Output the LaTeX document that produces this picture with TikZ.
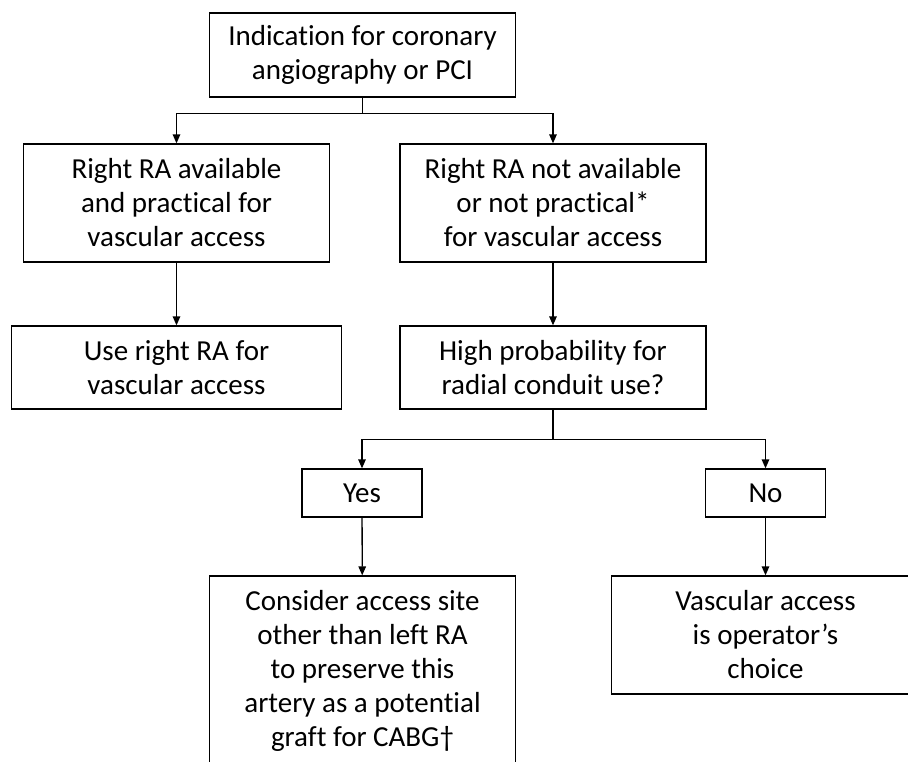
\documentclass[tikz,border=0pt]{standalone}
\usepackage{fontspec}
\setmainfont{Carlito}[Ligatures={TeX,NoCommon}]
\usetikzlibrary{arrows.meta,positioning,calc}

\begin{document}
\begin{tikzpicture}
[x=1pt,y=-1pt,
box/.style={draw=black,line width=1.3pt,align=center,inner sep=0pt,
  font=\fontsize{29}{34}\selectfont},
wide/.style={box,minimum width=306pt},
link/.style={line width=1.3pt},
arr/.style={link,-{Triangle[length=9pt,width=7.5pt]}}]
%%
% frame
%%
\useasboundingbox (0,0) rectangle (908,761);
\clip (0,0) rectangle (908,761);
%%
% top row
%%
\node[wide,minimum height=84pt] (ind) at (362.5,55)
  {Indication for coronary\\angiography or PCI};
\node[wide,minimum height=118pt] (avail) at (176.5,203)
  {Right RA available\\and practical for\\vascular access};
\node[wide,minimum height=118pt] (navail) at (553,203)
  {Right RA not available\\or not practical*\\for vascular access};
%%
% second row
%%
\node[box,minimum width=330pt,minimum height=83pt] (use) at (176.5,367.5)
  {Use right RA for\\vascular access};
\node[wide,minimum height=83pt] (high) at (553,367.5)
  {High probability for\\radial conduit use?};
%%
% yes / no
%%
\node[box,minimum width=120pt,minimum height=48pt] (yes) at (362,493) {Yes};
\node[box,minimum width=120pt,minimum height=48pt] (no) at (765.5,493) {No};
%%
% outcomes
%%
\node[wide,minimum height=190pt] (cons) at (362.5,671)
  {Consider access site\\other than left RA\\to preserve this\\artery as a potential\\graft for CABG\textdagger};
\node[box,minimum width=308pt,minimum height=118pt] (vasc) at (765.5,635)
  {Vascular access\\is operator’s\\choice};
%%
% connectors
%%
\draw[link] (ind.south) -- ++(0,16) coordinate (j1);
\draw[arr] (j1) -| (avail.north);
\draw[arr] (j1) -| (navail.north);
\draw[arr] (avail) -- (use);
\draw[arr] (navail) -- (high);
\draw[link] (high.south) -- ++(0,30) coordinate (j2);
\draw[arr] (j2) -| (yes.north);
\draw[arr] (j2) -| (no.north);
\draw[arr] (yes) -- (cons);
\draw[arr] (no) -- (vasc);
\end{tikzpicture}
\end{document}
